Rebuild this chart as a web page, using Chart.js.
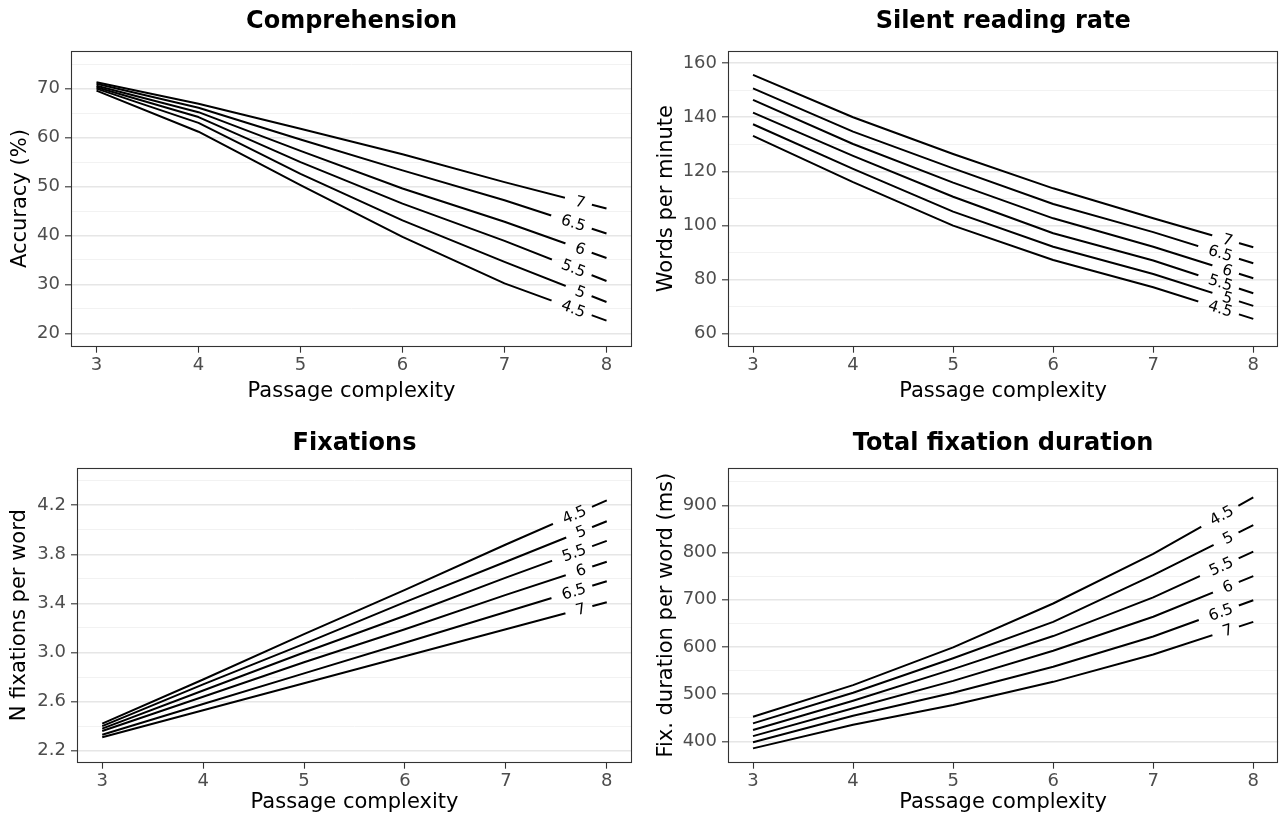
<!DOCTYPE html>
<html>
<head>
<meta charset="utf-8">
<script src="https://cdn.jsdelivr.net/npm/chart.js@4.4.1/dist/chart.umd.min.js"></script>
<style>
html,body{margin:0;padding:0;background:#fff;}
#wrap{position:relative;width:1282px;height:821px;overflow:hidden;background:#fff;}
canvas{position:absolute;}
</style>
</head>
<body>
<div id="wrap">
<canvas id="c1" width="641" height="410" style="left:0px;top:0px"></canvas>
<canvas id="c2" width="641" height="410" style="left:641px;top:0px"></canvas>
<canvas id="c3" width="641" height="411" style="left:0px;top:410px"></canvas>
<canvas id="c4" width="641" height="411" style="left:641px;top:410px"></canvas>
</div>
<script>
// ---------- data ----------
const complexity = [3, 4, 5, 6, 7, 8];
const levelLabels = ['4.5', '5', '5.5', '6', '6.5', '7'];
const xTicks = [3, 4, 5, 6, 7, 8];

// Comprehension: accuracy (%)
const acc45 = [69.6, 61.2, 50.3, 39.7, 30.2, 22.6];
const acc50 = [70.0, 63.0, 52.6, 43.1, 34.6, 26.4];
const acc55 = [70.3, 64.2, 55.0, 46.5, 38.9, 30.7];
const acc60 = [70.6, 65.2, 57.3, 49.6, 42.8, 35.4];
const acc65 = [71.0, 66.1, 59.6, 53.3, 47.2, 40.4];
const acc70 = [71.3, 66.9, 61.8, 56.6, 50.9, 45.5];
const accMajor = [20, 30, 40, 50, 60, 70];
const accMinor = [25, 35, 45, 55, 65, 75];

// Silent reading rate: words per minute
const wpm45 = [133.1, 116.0, 99.9, 87.2, 77.1, 65.4];
const wpm50 = [137.4, 120.9, 105.1, 92.1, 82.0, 70.2];
const wpm55 = [141.7, 125.7, 110.6, 97.1, 87.0, 74.9];
const wpm60 = [146.4, 130.1, 115.8, 102.6, 92.1, 80.4];
const wpm65 = [150.7, 134.7, 121.1, 107.9, 97.5, 86.0];
const wpm70 = [155.7, 140.0, 126.4, 113.7, 102.6, 91.9];
const wpmMajor = [60, 80, 100, 120, 140, 160];
const wpmMinor = [70, 90, 110, 130, 150];

// Fixations: N fixations per word
const fix45 = [2.42, 2.78, 3.15, 3.51, 3.88, 4.24];
const fix50 = [2.40, 2.74, 3.07, 3.41, 3.74, 4.07];
const fix55 = [2.38, 2.69, 3.00, 3.30, 3.61, 3.91];
const fix60 = [2.36, 2.64, 2.92, 3.19, 3.47, 3.74];
const fix65 = [2.33, 2.58, 2.83, 3.08, 3.33, 3.58];
const fix70 = [2.31, 2.53, 2.75, 2.97, 3.19, 3.41];
const fixMajor = [2.2, 2.6, 3.0, 3.4, 3.8, 4.2];
const fixMinor = [2.4, 2.8, 3.2, 3.6, 4.0, 4.4];

// Total fixation duration: ms per word
const dur45 = [452, 519, 599, 692, 797, 917];
const dur50 = [438, 503, 576, 653, 752, 858];
const dur55 = [424, 486, 553, 623, 705, 802];
const dur60 = [411, 470, 528, 592, 664, 750];
const dur65 = [398, 454, 503, 558, 622, 699];
const dur70 = [385, 435, 477, 526, 584, 653];
const durMajor = [400, 500, 600, 700, 800, 900];
const durMinor = [450, 550, 650, 750, 850, 950];

// ---------- styling ----------
const FONT = 'DejaVu Sans';
const LABEL_T = 0.79;        // label end position between x=7 and x=8
const LABEL_FONT = '15.5px "DejaVu Sans"';

function labelGeom(ctx, meta, text) {
  const pts = meta.data;
  const n = pts.length;
  const p0 = pts[n - 2], p1 = pts[n - 1];
  const x = p0.x + (p1.x - p0.x) * LABEL_T;
  const y = p0.y + (p1.y - p0.y) * LABEL_T;
  const ang = Math.atan2(p1.y - p0.y, p1.x - p0.x);
  ctx.save();
  ctx.font = LABEL_FONT;
  const w = ctx.measureText(text).width;
  ctx.restore();
  return {x, y, ang, w};
}

const decor = {
  id: 'decor',
  beforeDatasetsDraw(chart) {
    const ctx = chart.ctx, a = chart.chartArea;
    ctx.save();
    ctx.beginPath();
    ctx.rect(a.left, a.top, a.right - a.left, a.bottom - a.top);
    chart.data.datasets.forEach((ds, i) => {
      const g = labelGeom(ctx, chart.getDatasetMeta(i), ds.label);
      const c = Math.cos(g.ang), s = Math.sin(g.ang);
      const u0 = -(g.w + 11), u1 = 7, h = 4.5;
      const pts = [[u0, -h], [u1, -h], [u1, h], [u0, h]].map(([u, v]) => [g.x + u * c - v * s, g.y + u * s + v * c]);
      ctx.moveTo(pts[0][0], pts[0][1]);
      for (let k = 1; k < 4; k++) ctx.lineTo(pts[k][0], pts[k][1]);
      ctx.closePath();
    });
    ctx.clip('evenodd');
  },
  afterDatasetsDraw(chart) {
    const ctx = chart.ctx;
    ctx.restore();
    chart.data.datasets.forEach((ds, i) => {
      const g = labelGeom(ctx, chart.getDatasetMeta(i), ds.label);
      ctx.save();
      ctx.translate(g.x, g.y);
      ctx.rotate(g.ang);
      ctx.font = LABEL_FONT;
      ctx.fillStyle = '#000';
      ctx.textAlign = 'right';
      ctx.textBaseline = 'middle';
      ctx.fillText(ds.label, 0, 1);
      ctx.restore();
    });
  },
  afterDraw(chart, args, opts) {
    const ctx = chart.ctx, a = chart.chartArea;
    ctx.save();
    ctx.strokeStyle = '#333333';
    ctx.lineWidth = 1.1;
    const l = Math.round(a.left) + 0.5, t = Math.round(a.top) + 0.5;
    const r = Math.round(a.right) - 0.5, b = Math.round(a.bottom) - 0.5;
    ctx.strokeRect(l, t, r - l, b - t);
    ctx.fillStyle = '#000';
    ctx.font = 'bold 24px "' + FONT + '"';
    ctx.textAlign = 'center';
    ctx.textBaseline = 'middle';
    ctx.fillText(opts.text, (a.left + a.right) / 2, opts.y);
    ctx.restore();
  }
};

function makePanel(id, cfg) {
  const canvas = document.getElementById(id);
  const W = canvas.width, H = canvas.height;
  const majorSet = cfg.major;
  return new Chart(canvas, {
    type: 'line',
    data: {
      datasets: cfg.series.map((vals, i) => ({
        label: levelLabels[i],
        data: complexity.map((x, j) => ({x: x, y: vals[j]})),
        borderColor: '#000',
        borderWidth: 2,
        pointRadius: 0,
        pointHoverRadius: 0,
        tension: 0,
        fill: false,
        borderCapStyle: 'butt',
        borderJoinStyle: 'round'
      }))
    },
    options: {
      responsive: false,
      animation: false,
      devicePixelRatio: 1,
      events: [],
      layout: {padding: {left: 0, top: cfg.top, right: W - cfg.right, bottom: 0}},
      plugins: {
        legend: {display: false},
        tooltip: {enabled: false},
        title: {display: false},
        decor: {text: cfg.title, y: cfg.titleY}
      },
      scales: {
        x: {
          type: 'linear',
          min: 2.75, max: 8.25,
          bounds: 'data',
          afterBuildTicks: s => { s.ticks = xTicks.map(v => ({value: v})); },
          afterFit: s => { s.height = H - cfg.bottom; },
          grid: {drawOnChartArea: false, tickLength: 6, tickColor: '#333333', tickWidth: 1.1},
          border: {display: false},
          ticks: {padding: 1.5, color: '#4d4d4d', font: {family: FONT, size: 18}, maxRotation: 0, autoSkip: false},
          title: {display: true, text: 'Passage complexity', color: '#000', font: {family: FONT, size: 21}, padding: {top: 0, bottom: 5.6}}
        },
        y: {
          type: 'linear',
          min: cfg.min, max: cfg.max,
          bounds: 'data',
          afterBuildTicks: s => {
            const t = majorSet.map(v => ({value: v, minor: false})).concat(cfg.minor.map(v => ({value: v, minor: true})));
            t.sort((p, q) => p.value - q.value);
            s.ticks = t;
          },
          afterFit: s => { s.width = cfg.left; },
          grid: {
            drawOnChartArea: true,
            tickLength: 6,
            color: c => (c.tick && c.tick.minor) ? '#f2f2f2' : '#e6e6e6',
            lineWidth: c => (c.tick && c.tick.minor) ? 1 : 1.6,
            tickColor: c => (c.tick && c.tick.minor) ? 'rgba(0,0,0,0)' : '#333333',
            tickWidth: 1.1
          },
          border: {display: false},
          ticks: {
            padding: 5, color: '#4d4d4d', font: {family: FONT, size: 18}, autoSkip: false,
            callback: function (value, index, ticks) {
              return ticks[index].minor ? '' : cfg.fmt(value);
            }
          },
          title: {display: true, text: cfg.yTitle, color: '#000', font: {family: FONT, size: 21}, padding: {top: cfg.ytPad, bottom: 0}}
        }
      }
    },
    plugins: [decor]
  });
}

makePanel('c1', {
  title: 'Comprehension', titleY: 21.8, yTitle: 'Accuracy (%)', ytPad: 7.5,
  series: [acc45, acc50, acc55, acc60, acc65, acc70],
  major: accMajor, minor: accMinor, min: 17.27, max: 77.8,
  left: 71, right: 632, top: 50.5, bottom: 346.7,
  fmt: v => String(v)
});
makePanel('c2', {
  title: 'Silent reading rate', titleY: 21.8, yTitle: 'Words per minute', ytPad: 12.7,
  series: [wpm45, wpm50, wpm55, wpm60, wpm65, wpm70],
  major: wpmMajor, minor: wpmMinor, min: 55.1, max: 164.7,
  left: 87, right: 637.3, top: 50.5, bottom: 346.7,
  fmt: v => String(v)
});
makePanel('c3', {
  title: 'Fixations', titleY: 34.2, yTitle: 'N fixations per word', ytPad: 6.7,
  series: [fix45, fix50, fix55, fix60, fix65, fix70],
  major: fixMajor, minor: fixMinor, min: 2.102, max: 4.506,
  left: 77, right: 632, top: 57.7, bottom: 352.7,
  fmt: v => v.toFixed(1)
});
makePanel('c4', {
  title: 'Total fixation duration', titleY: 34.2, yTitle: 'Fix. duration per word (ms)', ytPad: 13.2,
  series: [dur45, dur50, dur55, dur60, dur65, dur70],
  major: durMajor, minor: durMinor, min: 354.7, max: 979.7,
  left: 87, right: 637.3, top: 57.7, bottom: 352.7,
  fmt: v => String(v)
});
</script>
</body>
</html>
